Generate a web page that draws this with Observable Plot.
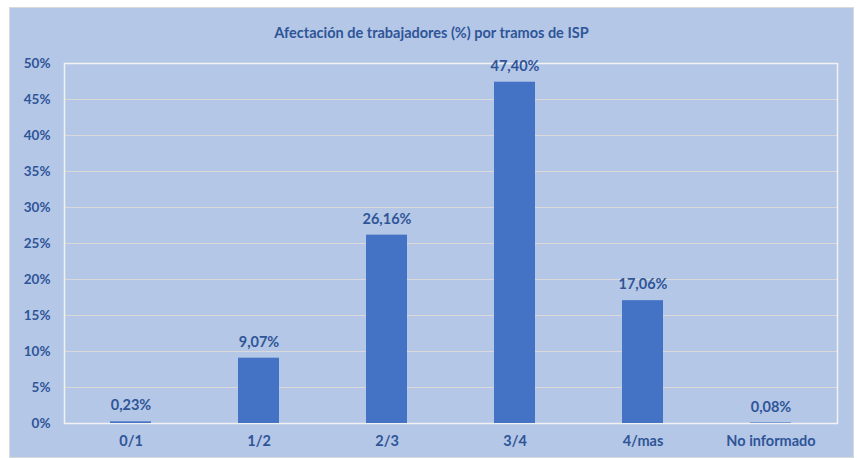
<!DOCTYPE html>
<html><head><meta charset="utf-8">
<script src="https://cdn.jsdelivr.net/npm/d3@7"></script>
<script src="https://cdn.jsdelivr.net/npm/@observablehq/plot@0.6"></script>
<style>
body{margin:0;background:#fff;font-family:Lato,"Open Sans",sans-serif;}
#chart{position:absolute;left:9px;top:7px;width:843px;height:449px;background:#B4C7E7;border:1px solid #D9D9D9;}
#title{height:48px;line-height:50px;text-align:center;font-weight:bold;font-size:14.5px;color:#2F5597;}
</style></head>
<body><div id="chart"><div id="title">Afectación de trabajadores (%) por tramos de ISP</div></div>
<script>
const categories = ["0/1","1/2","2/3","3/4","4/mas","No informado"];
const values = [0.23, 9.07, 26.16, 47.40, 17.06, 0.08];
const yTicks = [0,5,10,15,20,25,30,35,40,45,50];
const data = categories.map((c,i)=>({cat:c, v:values[i]}));
const fmt = v => v.toFixed(2).replace(".", ",") + "%";
const textColor = "#2F5597";
const plot = Plot.plot({
  width: 843, height: 401,
  marginTop: 7, marginBottom: 34, marginLeft: 54, marginRight: 16,
  style:{background:"transparent", fontFamily:"Lato, 'Open Sans', sans-serif", fontSize:"14px", fontWeight:"bold", color:textColor},
  x:{domain:categories, label:null, paddingInner:0.68, paddingOuter:0.34},
  y:{domain:[0,50], label:null, ticks:yTicks},
  marks:[
    Plot.ruleY(yTicks.filter(t=>t<50), {stroke:"#D9D9D9", strokeWidth:1, strokeOpacity:1}),
    Plot.frame({stroke:"#F2F2F2", strokeWidth:1.5}),
    Plot.barY(data, {x:"cat", y:"v", fill:"#4472C4"}),
    Plot.text(data, {x:"cat", y:"v", text:d=>fmt(d.v), dy:-16, fill:textColor, fontSize:14.5, fontWeight:"bold"}),
    Plot.axisY({ticks:yTicks, tickSize:0, tickPadding:14, tickFormat:d=>d+"%", fill:textColor, fontSize:13.5, fontWeight:"bold"}),
    Plot.axisX({tickSize:0, tickPadding:12, fill:textColor, fontSize:14.5, fontWeight:"bold"})
  ]
});
document.getElementById("chart").appendChild(plot);
</script></body></html>
